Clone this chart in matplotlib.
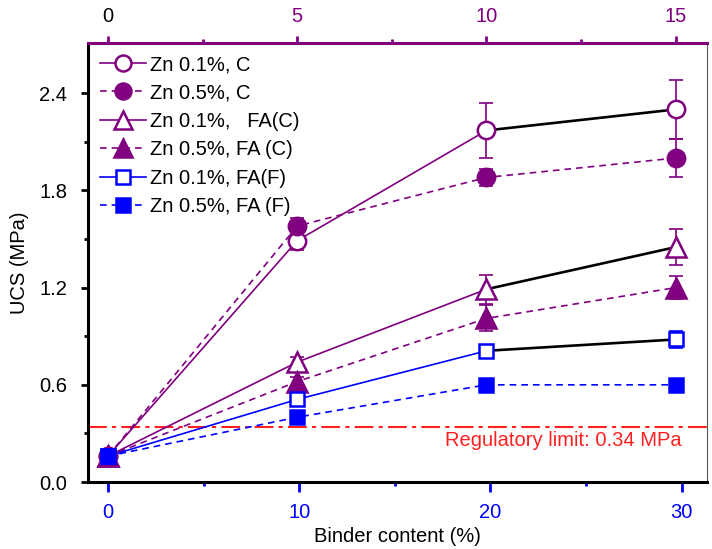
import numpy as np
import matplotlib
matplotlib.use('Agg')
import matplotlib.pyplot as plt
from matplotlib.lines import Line2D

plt.rcParams['font.family'] = ['Liberation Sans', 'DejaVu Sans']
plt.rcParams['font.size'] = 14.5

PURPLE = '#800080'
BLUE = '#0000ff'
RED = '#ff2020'

# binder content on the bottom axis, and the matching top-axis positions
binder = [0, 10, 20, 30]
top_x = [0, 5, 10, 15]

# UCS (MPa) and error bars
c01 = [0.16, 1.49, 2.17, 2.30]
c01_err = [0.0, 0.06, 0.17, 0.18]
c05 = [0.16, 1.58, 1.88, 2.00]
c05_err = [0.0, 0.05, 0.05, 0.12]
fac01 = [0.16, 0.74, 1.19, 1.45]
fac01_err = [0.0, 0.03, 0.09, 0.11]
fac05 = [0.16, 0.62, 1.01, 1.20]
fac05_err = [0.0, 0.03, 0.08, 0.07]
faf01 = [0.16, 0.51, 0.81, 0.88]
faf01_err = [0.0, 0.0, 0.0, 0.05]
faf05 = [0.16, 0.40, 0.60, 0.60]
faf05_err = [0.0, 0.0, 0.0, 0.0]

limit = 0.34

labels = ['Zn 0.1%, C', 'Zn 0.5%, C', 'Zn 0.1%,   FA(C)',
          'Zn 0.5%, FA (C)', 'Zn 0.1%, FA(F)', 'Zn 0.5%, FA (F)']

series = [
    (c01, c01_err, PURPLE, 'o', 'white', '-', 12.5),
    (c05, c05_err, PURPLE, 'o', PURPLE, '--', 12.5),
    (fac01, fac01_err, PURPLE, '^', 'white', '-', 14),
    (fac05, fac05_err, PURPLE, '^', PURPLE, '--', 14),
    (faf01, faf01_err, BLUE, 's', 'white', '-', 10.5),
    (faf05, faf05_err, BLUE, 's', BLUE, '--', 10.5),
]

fig = plt.figure(figsize=(7.12, 5.49), dpi=100)
ax = fig.add_axes([0.1236, 0.122, 0.869, 0.7997])
ax2 = ax.twiny()

ax.set_xlim(-1.045, 31.31)
ax2.set_xlim(-0.528, 15.82)
ax.set_ylim(0, 2.71)

dash = (0, (4, 3))
handles = []
for (y, err, col, mk, fc, ls, ms), lab in zip(series, labels):
    lstyle = '-' if ls == '-' else dash
    if ls == '-':
        ax2.plot(top_x[:3], y[:3], color=col, lw=1.2, zorder=2)
        ax2.plot(top_x[2:], y[2:], color='black', lw=1.9, zorder=2)
    else:
        ax2.plot(top_x, y, color=col, lw=1.2, ls=dash, zorder=2)
    ax2.errorbar(top_x, y, yerr=err, fmt='none', ecolor=col, elinewidth=1.2,
                 capsize=5, capthick=1.2, zorder=3)
    ax2.plot(top_x, y, ls='none', marker=mk, ms=ms, mfc=fc, mec=col,
             mew=1.8, zorder=4)
    handles.append(Line2D([], [], color=col, lw=1.2, ls=lstyle, marker=mk,
                          ms=ms - 1, mfc=fc, mec=col, mew=1.8))

# regulatory limit
ax.axhline(limit, color=RED, lw=1.5, ls=(0, (9, 2.5, 2, 2.5)), zorder=1)
ax.text(30, 0.255, 'Regulatory limit: 0.34 MPa', color=RED, ha='right',
        va='center', fontsize=14.5)

# axes styling
ax.spines['left'].set_linewidth(2.2)
ax.spines['bottom'].set_linewidth(2.2)
ax.spines['right'].set_linewidth(0.8)
ax.spines['right'].set_color('#555555')
ax.spines['top'].set_visible(False)
for s in ['left', 'bottom', 'right']:
    ax2.spines[s].set_visible(False)
ax2.spines['top'].set_linewidth(2.2)
ax2.spines['top'].set_color(PURPLE)

ax.set_xticks(binder)
ax.set_xticks([5, 15, 25], minor=True)
ax.tick_params(axis='x', which='major', colors=BLUE, length=7, width=2, pad=8,
               labelsize=14.5)
ax.tick_params(axis='x', which='minor', colors=BLUE, length=3, width=2)
ax.set_yticks([0.0, 0.6, 1.2, 1.8, 2.4])
ax.set_yticks([0.3, 0.9, 1.5, 2.1], minor=True)
ax.set_yticklabels(['0.0', '0.6', '1.2', '1.8', '2.4'])
ax.tick_params(axis='y', which='major', length=5, width=2, pad=10, labelsize=14.5)
ax.tick_params(axis='y', which='minor', length=3, width=2)

ax2.set_xticks(top_x)
ax2.set_xticks([2.5, 7.5, 12.5], minor=True)
ax2.tick_params(axis='x', which='major', colors=PURPLE, length=5, width=2,
                pad=7, labelsize=14.5)
ax2.tick_params(axis='x', which='minor', colors=PURPLE, length=3, width=2)
ax2.get_xticklabels()[0].set_color('black')

ax.set_xlabel('Binder content (%)', fontsize=14.5, labelpad=4)
ax.set_ylabel('UCS (MPa)', fontsize=14.5, labelpad=7)

ax2.legend(handles, labels, loc='upper left', frameon=False, fontsize=14.5,
           handlelength=2.3, handletextpad=0.2, labelspacing=0.47,
           borderaxespad=0.2, bbox_to_anchor=(0.0, 1.0))

fig.savefig('out.png', dpi=100)
